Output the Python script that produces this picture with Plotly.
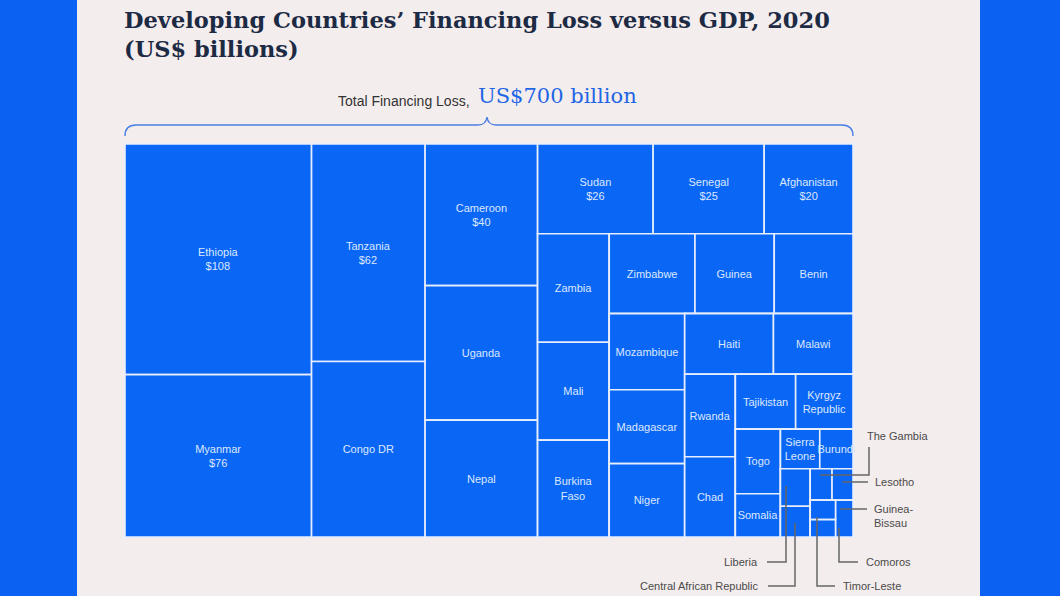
import plotly.graph_objects as go

W, H = 1060, 596

# ---- data (US$ billions) ----
countries = ["Ethiopia", "Myanmar", "Tanzania", "Congo DR", "Cameroon", "Uganda", "Nepal",
             "Sudan", "Senegal", "Afghanistan", "Zambia", "Mali", "Burkina Faso", "Zimbabwe",
             "Guinea", "Benin", "Mozambique", "Madagascar", "Niger", "Haiti", "Malawi",
             "Rwanda", "Chad", "Tajikistan", "Kyrgyz Republic", "Togo", "Somalia",
             "Sierra Leone", "Burundi", "Liberia", "Central African Republic", "The Gambia",
             "Lesotho", "Timor-Leste", "Guinea-Bissau", "Comoros"]
loss = [108, 76, 62, 50, 40, 38, 33,
        26, 25, 20, 19.5, 17.6, 17.4, 17.2,
        15.9, 15.8, 14.4, 14.0, 13.9, 13.5, 12.1,
        10.5, 10.2, 8.3, 7.9, 7.3, 4.9,
        3.9, 3.3, 2.8, 2.3, 1.72,
        1.65, 1.62, 1.24, 1.1]
cell_labels = ["Ethiopia<br>$108", "Myanmar<br>$76", "Tanzania<br>$62", "Congo DR",
               "Cameroon<br>$40", "Uganda", "Nepal", "Sudan<br>$26", "Senegal<br>$25",
               "Afghanistan<br>$20", "Zambia", "Mali", "Burkina<br>Faso", "Zimbabwe",
               "Guinea", "Benin", "Mozambique", "Madagascar", "Niger", "Haiti", "Malawi",
               "Rwanda", "Chad", "Tajikistan", "Kyrgyz<br>Republic", "Togo", "Somalia",
               "Sierra<br>Leone", "Burundi", "", "", "", "", "", "", ""]

# ---- tiling structure (unlabelled grouping nodes, alternating columns / rows) ----
group_ids = ["root", "G1", "G2", "G3", "G4", "R1", "R2", "C2", "R3", "C3", "R4", "C4", "R5",
             "C5", "R6", "C6", "R7", "C7", "R8", "C8", "R9", "C9", "R10", "C10", "R11",
             "C11", "R12", "C12"]
group_parents = ["", "root", "root", "root", "root", "G4", "G4", "R2", "R2", "R3", "R3", "R4",
                 "R4", "R5", "R5", "R6", "R6", "R7", "R7", "R8", "R8", "R9", "R9", "R10",
                 "R10", "R11", "R11", "R12"]
country_group = ["G1", "G1", "G2", "G2", "G3", "G3", "G3",
                 "R1", "R1", "R1", "C2", "C2", "C2", "C3",
                 "C3", "C3", "C4", "C4", "C4", "C5", "C5",
                 "C6", "C6", "C7", "C7", "C8", "C8",
                 "C9", "C9", "C10", "C10", "C11",
                 "C11", "R12", "C12", "C12"]

BLUE = "#0a66f5"
BG_OUT = "#0b62f2"
PANEL = "#f4eded"

def px_x(x):
    return x / W

def px_y(y):
    return 1 - y / H

ids = group_ids + countries
labels = [""] * len(group_ids) + countries
parents = group_parents + country_group
values = [0] * len(group_ids) + loss
texts = [""] * len(group_ids) + cell_labels

fig = go.Figure(go.Treemap(
    ids=ids,
    labels=labels,
    parents=parents,
    values=values,
    branchvalues="remainder",
    text=texts,
    texttemplate="%{text}",
    textposition="middle center",
    textfont=dict(family="Liberation Sans", size=11, color="#dce8ff"),
    marker=dict(colors=[BLUE] * len(ids), line=dict(color="#e8eefc", width=1.6),
                pad=dict(t=0, l=0, r=0, b=0), depthfade=False),
    tiling=dict(packing="slice-dice", pad=0),
    pathbar=dict(visible=False),
    sort=False,
    maxdepth=-1,
    hovertemplate="%{label}<br>$%{value}<extra></extra>",
    domain=dict(x=[px_x(125), px_x(853)], y=[px_y(537), px_y(144)]),
))

shapes = [
    dict(type="rect", xref="paper", yref="paper", x0=px_x(77), x1=px_x(980), y0=0, y1=1,
         fillcolor=PANEL, line=dict(width=0), layer="below"),
]

def P(x, y):
    return f"{px_x(x):.5f},{px_y(y):.5f}"

brace = ("M " + P(125, 136) + " Q " + P(125, 125) + " " + P(136, 125) + " L " + P(478, 125)
         + " Q " + P(486, 125) + " " + P(487, 117) + " Q " + P(488, 125) + " " + P(496, 125)
         + " L " + P(842, 125) + " Q " + P(853, 125) + " " + P(853, 136))
shapes.append(dict(type="path", xref="paper", yref="paper", path=brace,
                   line=dict(color="#4a7fe6", width=1.4)))

GRAY = "#666666"
leaders = [
    [(820, 475), (869, 475), (869, 447)],           # The Gambia
    [(842, 482), (868, 482)],                       # Lesotho
    [(840, 509), (867, 509)],                       # Guinea-Bissau
    [(839, 528), (839, 562), (858, 562)],           # Comoros
    [(817, 517), (817, 586), (835, 586)],           # Timor-Leste
    [(786, 486), (786, 562), (767, 562)],           # Liberia
    [(795, 523), (795, 586), (768, 586)],           # Central African Republic
]
for pts in leaders:
    path = "M " + " L ".join(P(x, y) for x, y in pts)
    shapes.append(dict(type="path", xref="paper", yref="paper", path=path,
                       line=dict(color=GRAY, width=1.5)))

annotations = [
    dict(text="<b>Developing Countries’ Financing Loss versus GDP, 2020<br>(US$ billions)</b>",
         x=px_x(122), y=px_y(5), xref="paper", yref="paper", xanchor="left", yanchor="top",
         align="left", showarrow=False,
         font=dict(family="DejaVu Serif", size=22.5, color="#1d2a44")),
    dict(text="Total Financing Loss,", x=px_x(472), y=px_y(101), xref="paper", yref="paper",
         xanchor="right", yanchor="middle", showarrow=False,
         font=dict(family="Liberation Sans", size=14, color="#333333")),
    dict(text="US$700 billion", x=px_x(476), y=px_y(96), xref="paper", yref="paper",
         xanchor="left", yanchor="middle", showarrow=False,
         font=dict(family="DejaVu Serif", size=21, color="#1f66e5")),
]

side_labels = [
    ("The Gambia", 865, 436, "left"),
    ("Lesotho", 873, 482, "left"),
    ("Guinea-<br>Bissau", 872, 516, "left"),
    ("Comoros", 864, 562, "left"),
    ("Timor-Leste", 841, 586, "left"),
    ("Liberia", 760, 562, "right"),
    ("Central African Republic", 761, 586, "right"),
]
for txt, x, y, side in side_labels:
    annotations.append(dict(text=txt, x=px_x(x), y=px_y(y), xref="paper", yref="paper",
                            xanchor=side, yanchor="middle", showarrow=False, align="left",
                            font=dict(family="Liberation Sans", size=11, color="#4a4a4a")))

fig.update_layout(
    width=W, height=H,
    margin=dict(l=0, r=0, t=0, b=0),
    paper_bgcolor=BG_OUT,
    shapes=shapes,
    annotations=annotations,
    showlegend=False,
    uniformtext=dict(minsize=11, mode="show"),
)

fig.write_html("out.html", config={"displayModeBar": False},
               post_script="document.body.style.margin='0';document.body.style.overflow='hidden';")
